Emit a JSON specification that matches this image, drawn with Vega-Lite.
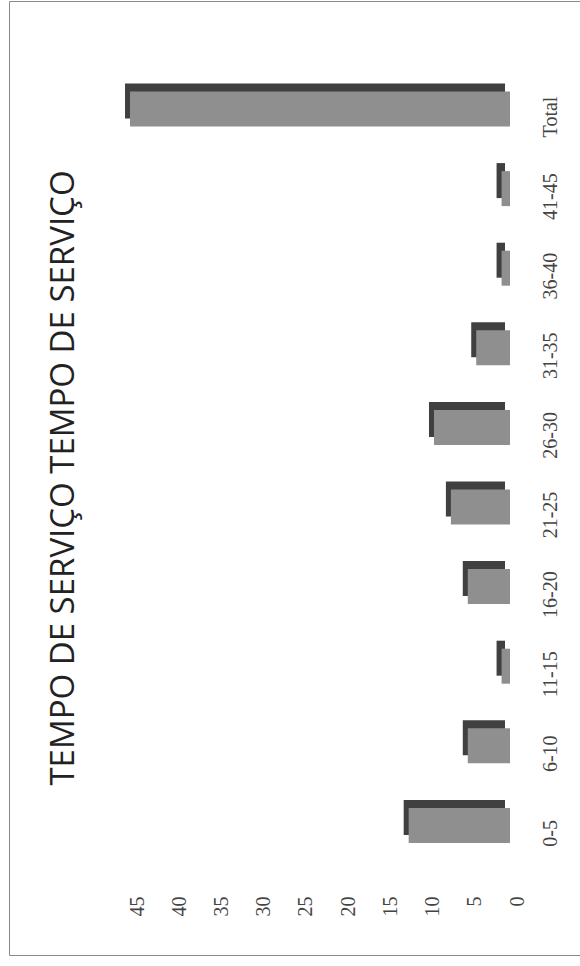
{
  "$schema": "https://vega.github.io/schema/vega-lite/v6.json",
  "width": 571,
  "height": 954,
  "autosize": {"type": "none"},
  "padding": {"left": 9, "top": 1, "right": 0, "bottom": 11},
  "background": "white",
  "title": {
    "text": "TEMPO DE SERVIÇO TEMPO DE SERVIÇO",
    "orient": "left",
    "anchor": "middle",
    "offset": -72,
    "font": "Open Sans",
    "fontSize": 33,
    "fontWeight": "normal",
    "color": "#222222"
  },
  "data": {
    "values": [
      {"faixa": "0-5", "n": 12},
      {"faixa": "6-10", "n": 5},
      {"faixa": "11-15", "n": 1},
      {"faixa": "16-20", "n": 5},
      {"faixa": "21-25", "n": 7},
      {"faixa": "26-30", "n": 9},
      {"faixa": "31-35", "n": 4},
      {"faixa": "36-40", "n": 1},
      {"faixa": "41-45", "n": 1},
      {"faixa": "Total", "n": 45}
    ]
  },
  "encoding": {
    "y": {
      "field": "faixa",
      "type": "nominal",
      "sort": ["Total", "41-45", "36-40", "31-35", "26-30", "21-25", "16-20", "11-15", "6-10", "0-5"],
      "scale": {"paddingInner": 0.015, "paddingOuter": 1, "align": 0.407},
      "axis": {
        "orient": "right",
        "title": null,
        "domain": false,
        "ticks": false,
        "grid": false,
        "labelAngle": 270,
        "labelAlign": "center",
        "labelBaseline": "top",
        "labelPadding": 0,
        "offset": -40,
        "labelOffset": 12,
        "labelFont": "Liberation Serif",
        "labelFontSize": 20,
        "labelColor": "#444444"
      }
    },
    "x": {
      "field": "n",
      "type": "quantitative",
      "scale": {"domain": [-7.46, 60.16], "reverse": true, "nice": false, "zero": false},
      "axis": {
        "orient": "bottom",
        "title": null,
        "values": [0, 5, 10, 15, 20, 25, 30, 35, 40, 45],
        "domain": false,
        "ticks": false,
        "grid": false,
        "labelFlush": false,
        "labelAngle": 270,
        "labelAlign": "right",
        "labelBaseline": "middle",
        "labelPadding": 0,
        "offset": -59,
        "labelFont": "Liberation Serif",
        "labelFontSize": 20,
        "labelColor": "#444444"
      }
    }
  },
  "layer": [
    {"mark": {"type": "bar", "height": 35, "color": "#404040", "xOffset": -12, "yOffset": -4}},
    {"mark": {"type": "bar", "height": 35, "color": "#8f8f8f", "xOffset": -7, "yOffset": 4}}
  ],
  "config": {
    "view": {"stroke": "#8a8a8a", "strokeWidth": 1}
  }
}
